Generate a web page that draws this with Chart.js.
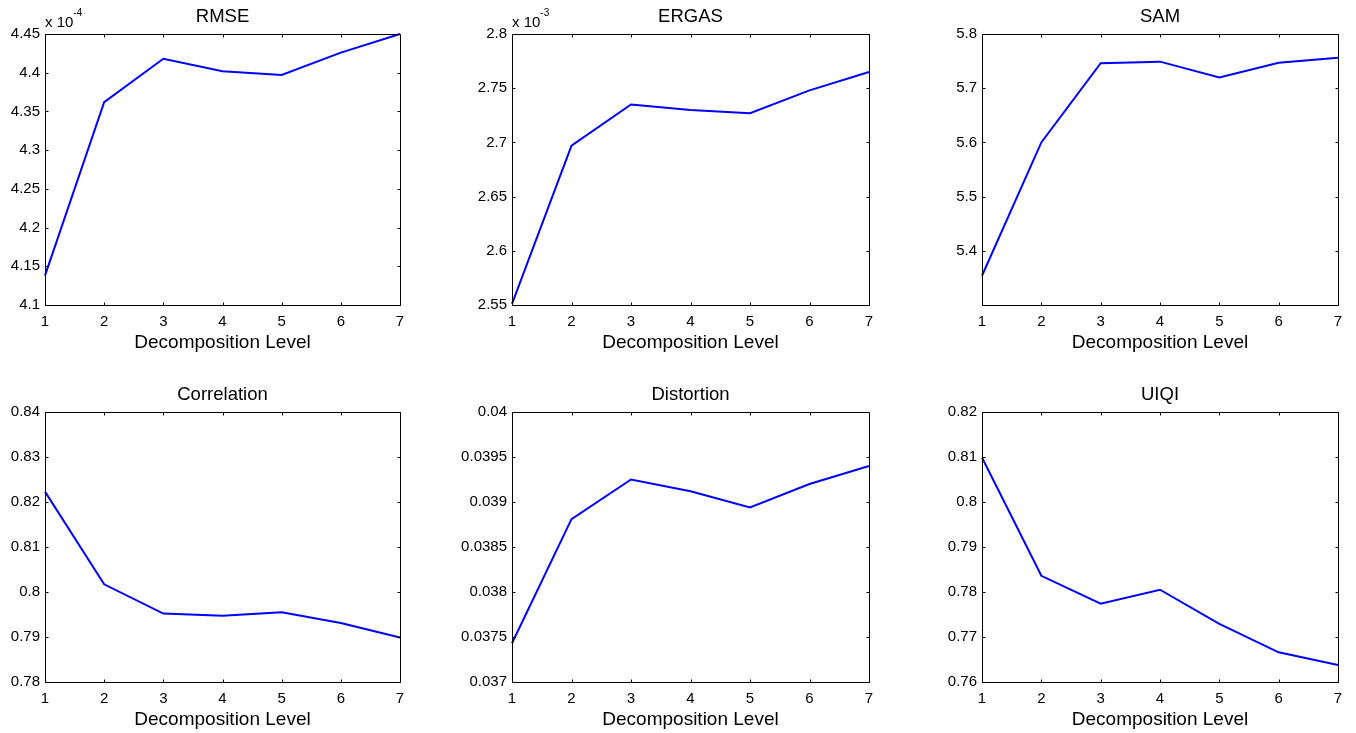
<!DOCTYPE html>
<html>
<head>
<meta charset="utf-8">
<script src="https://cdn.jsdelivr.net/npm/chart.js@4/dist/chart.umd.min.js"></script>
<style>
  html, body { margin: 0; padding: 0; background: #ffffff; }
  body { width: 1356px; height: 733px; position: relative; overflow: hidden; }
  canvas { position: absolute; }
</style>
</head>
<body>
<script>
// ---- data ----
const levels = [1, 2, 3, 4, 5, 6, 7];

const rmse        = [4.138, 4.362, 4.418, 4.402, 4.397, 4.426, 4.450];   // x 10^-4
const ergas       = [2.551, 2.697, 2.735, 2.730, 2.727, 2.748, 2.765];   // x 10^-3
const sam         = [5.354, 5.600, 5.746, 5.749, 5.720, 5.747, 5.756];
const correlation = [0.8223, 0.8017, 0.7952, 0.7947, 0.7955, 0.7931, 0.7899];
const distortion  = [0.03743, 0.03881, 0.03925, 0.03912, 0.03894, 0.03920, 0.03940];
const uiqi        = [0.8099, 0.7836, 0.7774, 0.7805, 0.7729, 0.7666, 0.7638];

const rmseTicks        = [4.1, 4.15, 4.2, 4.25, 4.3, 4.35, 4.4, 4.45];
const ergasTicks       = [2.55, 2.6, 2.65, 2.7, 2.75, 2.8];
const samTicks         = [5.4, 5.5, 5.6, 5.7, 5.8];
const correlationTicks = [0.78, 0.79, 0.8, 0.81, 0.82, 0.83, 0.84];
const distortionTicks  = [0.037, 0.0375, 0.038, 0.0385, 0.039, 0.0395, 0.04];
const uiqiTicks        = [0.76, 0.77, 0.78, 0.79, 0.8, 0.81, 0.82];

const titles = ['RMSE', 'ERGAS', 'SAM', 'Correlation', 'Distortion', 'UIQI'];
const exponents = ['-4', '-3', null, null, null, null];
const xLabel = 'Decomposition Level';

// ---- layout ----
const FONT = "'Liberation Sans', Arial, Helvetica, sans-serif";
const colLeft  = [45, 512, 982];
const colWidth = [355, 357, 356];
const rowTop    = [34, 412];
const rowHeight = [271, 270];
const PAD_L = 70, PAD_T = 45, PAD_R = 20, PAD_B = 55;

const panels = [
  { data: rmse,        ticks: rmseTicks,        min: 4.1,   max: 4.45 },
  { data: ergas,       ticks: ergasTicks,       min: 2.55,  max: 2.8 },
  { data: sam,         ticks: samTicks,         min: 5.3,   max: 5.8 },
  { data: correlation, ticks: correlationTicks, min: 0.78,  max: 0.84 },
  { data: distortion,  ticks: distortionTicks,  min: 0.037, max: 0.04 },
  { data: uiqi,        ticks: uiqiTicks,        min: 0.76,  max: 0.82 }
];

const boxPlugin = {
  id: 'matlabBox',
  afterDraw(chart, args, opts) {
    const ctx = chart.ctx;
    const a = chart.chartArea;
    const xs = chart.scales.x, ys = chart.scales.y;
    const L = Math.round(a.left) + 0.5, R = Math.round(a.right) + 0.5;
    const T = Math.round(a.top) + 0.5, B = Math.round(a.bottom) + 0.5;
    const tl = 3;
    ctx.save();
    ctx.strokeStyle = '#000000';
    ctx.lineWidth = 1;
    ctx.beginPath();
    ctx.rect(L, T, R - L, B - T);
    xs.ticks.forEach((t, i) => {
      const x = Math.round(xs.getPixelForTick(i)) + 0.5;
      ctx.moveTo(x, B); ctx.lineTo(x, B - tl);
      ctx.moveTo(x, T); ctx.lineTo(x, T + tl);
    });
    ys.ticks.forEach(t => {
      const y = Math.round(ys.getPixelForValue(t.value)) + 0.5;
      ctx.moveTo(L, y); ctx.lineTo(L + tl, y);
      ctx.moveTo(R, y); ctx.lineTo(R - tl, y);
    });
    ctx.stroke();
    ctx.fillStyle = '#000000';
    ctx.textBaseline = 'alphabetic';
    // subplot title, centred over the axes box
    if (opts && opts.title) {
      ctx.textAlign = 'center';
      ctx.font = '18.5px ' + FONT;
      ctx.fillText(opts.title, (a.left + a.right) / 2, a.top - 12);
    }
    // exponent label
    if (opts && opts.exponent) {
      ctx.textAlign = 'left';
      ctx.font = '15px ' + FONT;
      const base = 'x 10';
      ctx.fillText(base, a.left, a.top - 7);
      const w = ctx.measureText(base).width;
      ctx.font = '10px ' + FONT;
      ctx.fillText(opts.exponent, a.left + w, a.top - 18);
    }
    ctx.restore();
  }
};

panels.forEach((p, idx) => {
  const r = Math.floor(idx / 3), c = idx % 3;
  const cv = document.createElement('canvas');
  const W = colWidth[c] + PAD_L + PAD_R;
  const H = rowHeight[r] + PAD_T + PAD_B;
  cv.width = W; cv.height = H;
  cv.style.left = (colLeft[c] - PAD_L) + 'px';
  cv.style.top = (rowTop[r] - PAD_T) + 'px';
  cv.style.width = W + 'px'; cv.style.height = H + 'px';
  document.body.appendChild(cv);

  new Chart(cv.getContext('2d'), {
    type: 'line',
    data: {
      labels: levels,
      datasets: [{
        data: p.data,
        borderColor: '#0000ff',
        borderWidth: 2,
        pointRadius: 0,
        pointHoverRadius: 0,
        fill: false,
        tension: 0,
        clip: false
      }]
    },
    plugins: [boxPlugin],
    options: {
      responsive: false,
      animation: false,
      devicePixelRatio: 1,
      layout: { padding: { left: 0, top: PAD_T, right: PAD_R, bottom: 0 } },
      plugins: {
        legend: { display: false },
        tooltip: { enabled: false },
        title: { display: false },
        matlabBox: { title: titles[idx], exponent: exponents[idx] }
      },
      scales: {
        x: {
          type: 'category',
          offset: false,
          grid: { display: false, drawTicks: false },
          border: { display: false },
          ticks: {
            color: '#000000',
            font: { family: FONT, size: 15 },
            padding: 8,
            maxRotation: 0,
            autoSkip: false
          },
          title: {
            display: true,
            text: xLabel,
            color: '#000000',
            font: { family: FONT, size: 19 },
            padding: { top: 0, bottom: 6 }
          },
          afterFit(s) { s.height = PAD_B; }
        },
        y: {
          type: 'linear',
          min: p.min,
          max: p.max,
          grid: { display: false, drawTicks: false },
          border: { display: false },
          ticks: {
            color: '#000000',
            font: { family: FONT, size: 15 },
            padding: 5,
            callback: (v) => String(v)
          },
          afterBuildTicks(s) { s.ticks = p.ticks.map(v => ({ value: v })); },
          afterFit(s) { s.width = PAD_L; }
        }
      }
    }
  });
});
</script>
</body>
</html>
